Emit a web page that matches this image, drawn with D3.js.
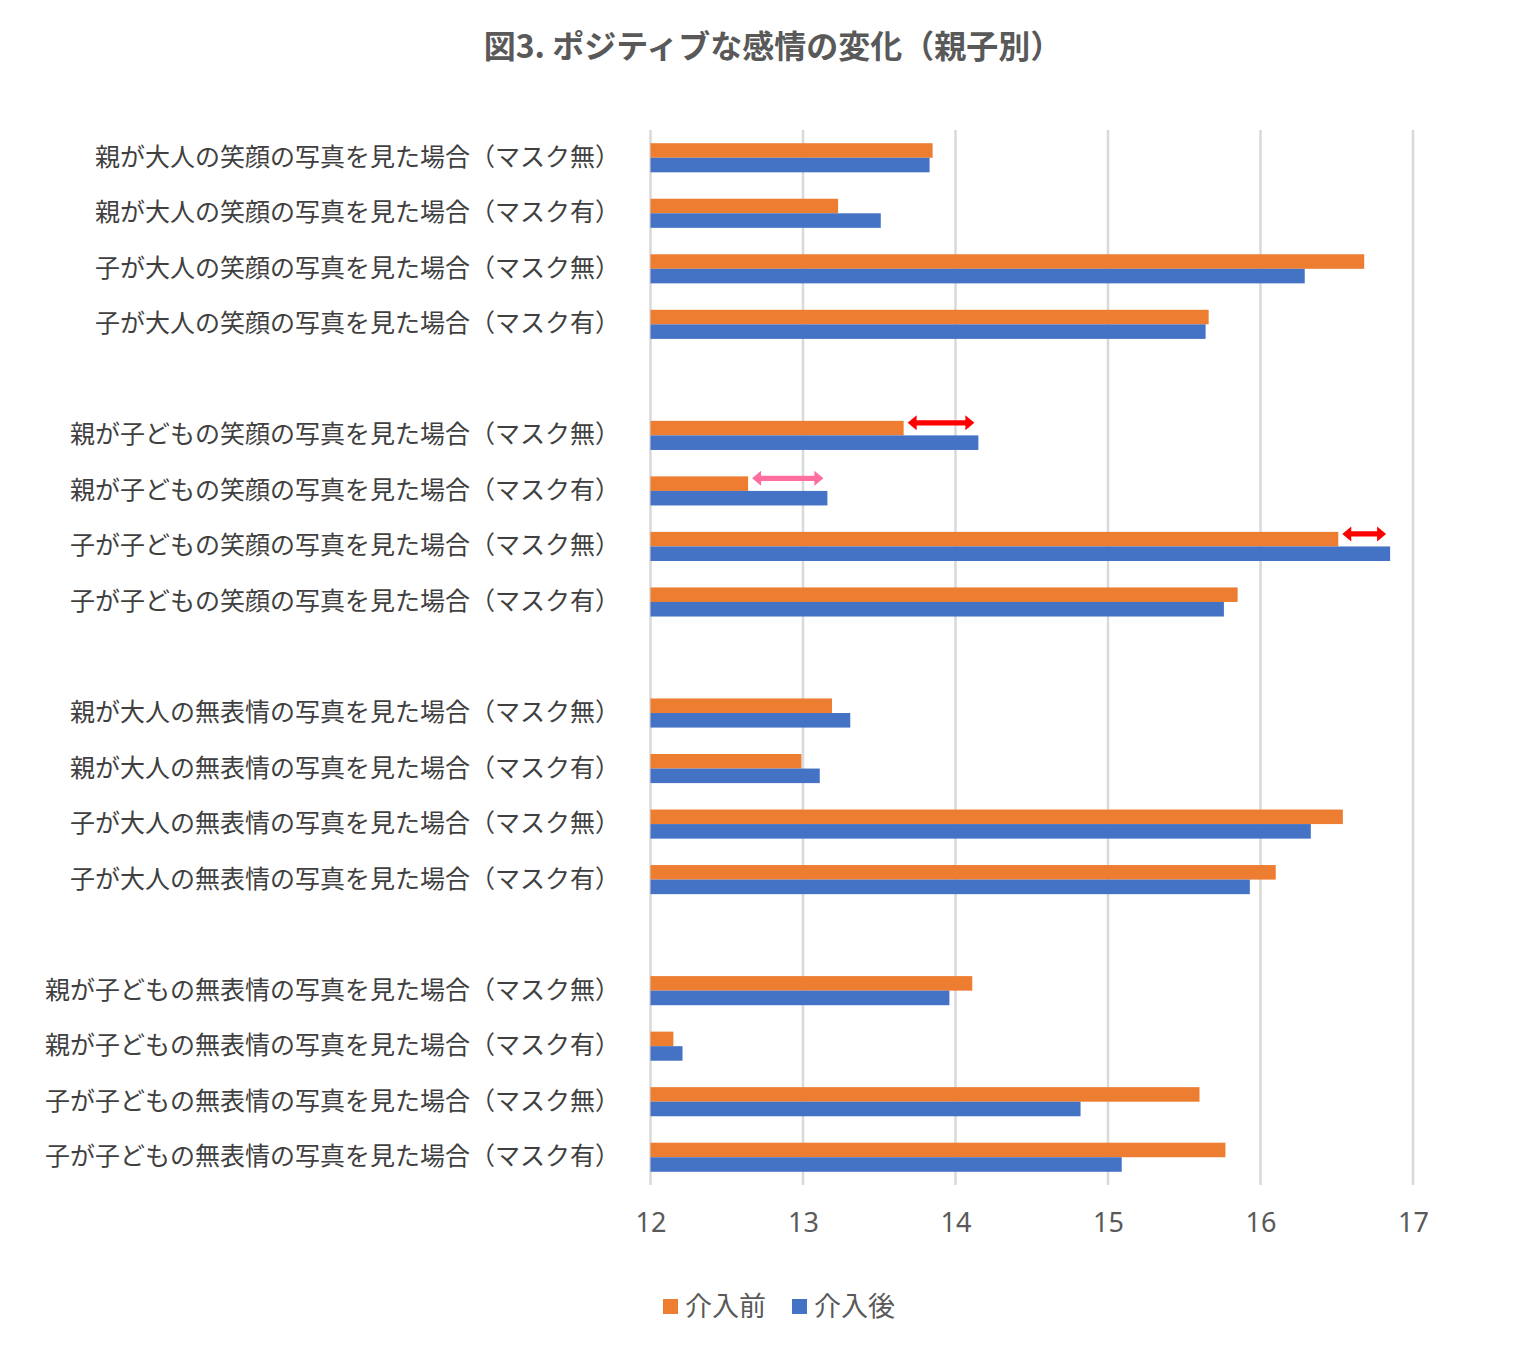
<!DOCTYPE html>
<html>
<head>
<meta charset="utf-8">
<script src="https://cdn.jsdelivr.net/npm/d3@7"></script>
<style>
  html, body { margin: 0; padding: 0; background: #fff; }
  svg { display: block; font-family: "Noto Sans CJK JP", "Noto Sans", sans-serif; }
</style>
</head>
<body>
<svg id="chart" width="1513" height="1360"></svg>
<script>
// ---- data ----
const title = "図3. ポジティブな感情の変化（親子別）";
const categories = [
  "親が大人の笑顔の写真を見た場合（マスク無）",
  "親が大人の笑顔の写真を見た場合（マスク有）",
  "子が大人の笑顔の写真を見た場合（マスク無）",
  "子が大人の笑顔の写真を見た場合（マスク有）",
  "",
  "親が子どもの笑顔の写真を見た場合（マスク無）",
  "親が子どもの笑顔の写真を見た場合（マスク有）",
  "子が子どもの笑顔の写真を見た場合（マスク無）",
  "子が子どもの笑顔の写真を見た場合（マスク有）",
  "",
  "親が大人の無表情の写真を見た場合（マスク無）",
  "親が大人の無表情の写真を見た場合（マスク有）",
  "子が大人の無表情の写真を見た場合（マスク無）",
  "子が大人の無表情の写真を見た場合（マスク有）",
  "",
  "親が子どもの無表情の写真を見た場合（マスク無）",
  "親が子どもの無表情の写真を見た場合（マスク有）",
  "子が子どもの無表情の写真を見た場合（マスク無）",
  "子が子どもの無表情の写真を見た場合（マスク有）"
];
const seriesNames = ["介入前", "介入後"];
const before = [13.85, 13.23, 16.68, 15.66, null, 13.66, 12.64, 16.51, 15.85, null, 13.19, 12.99, 16.54, 16.10, null, 14.11, 12.15, 15.60, 15.77];
const after  = [13.83, 13.51, 16.29, 15.64, null, 14.15, 13.16, 16.85, 15.76, null, 13.31, 13.11, 16.33, 15.93, null, 13.96, 12.21, 14.82, 15.09];
const xTicks = [12, 13, 14, 15, 16, 17];
// highlighted changes (category index, arrow colour)
const arrowRows = [5, 6, 7];
const arrowColors = ["#FF0000", "#FF6E9E", "#FF0000"];

// ---- layout ----
const svg = d3.select("#chart");
const colors = { "介入前": "#ED7D31", "介入後": "#4472C4" };
const plot = { left: 650.5, right: 1413, top: 130, bottom: 1185 };

const x = d3.scaleLinear().domain([12, 17]).range([plot.left, plot.right]);
const y = d3.scaleBand().domain(d3.range(categories.length))
  .range([plot.top, plot.bottom]).paddingInner(0.476).paddingOuter(0.238);
const ySub = d3.scaleBand().domain(seriesNames).range([0, y.bandwidth()]);

// title
svg.append("text")
  .attr("x", 773).attr("y", 58)
  .attr("text-anchor", "middle")
  .attr("font-size", 32).attr("font-weight", "bold")
  .attr("fill", "#595959")
  .text(title);

// gridlines
svg.append("g").selectAll("line").data(xTicks).join("line")
  .attr("x1", d => x(d)).attr("x2", d => x(d))
  .attr("y1", plot.top).attr("y2", plot.bottom)
  .attr("stroke", "#D9D9D9").attr("stroke-width", 2.5);

// x axis tick labels
const xAxis = d3.axisBottom(x).tickValues(xTicks).tickFormat(d3.format("d")).tickSize(0).tickPadding(0);
const gx = svg.append("g").attr("transform", `translate(0,${plot.bottom + 47})`).call(xAxis);
gx.select(".domain").remove();
gx.selectAll("text").attr("font-size", 27).attr("fill", "#595959")
  .attr("font-family", "'Noto Sans', 'DejaVu Sans', sans-serif").attr("dy", 0);

// category labels
const yAxis = d3.axisLeft(y).tickFormat(i => categories[i]).tickSize(0).tickPadding(0);
const gy = svg.append("g").attr("transform", `translate(620,0)`).call(yAxis);
gy.select(".domain").remove();
gy.selectAll("text").attr("font-size", 25).attr("fill", "#404040")
  .attr("font-family", "'Noto Sans CJK JP', sans-serif");

// bars
const rows = categories.map((c, i) => ({ i, values: [
  { key: "介入前", v: before[i] }, { key: "介入後", v: after[i] } ] }));
const gRows = svg.append("g").selectAll("g").data(rows.filter(r => r.values[0].v != null))
  .join("g").attr("transform", r => `translate(0,${y(r.i)})`);
gRows.selectAll("rect").data(r => r.values).join("rect")
  .attr("x", x(12))
  .attr("y", d => ySub(d.key))
  .attr("width", d => x(d.v) - x(12))
  .attr("height", ySub.bandwidth())
  .attr("fill", d => colors[d.key]);

// double-headed arrows marking the change
function dblArrow(x1, x2, yc) {
  const hs = 2.7, hh = 7.5, hl = 9;
  return `M${x1},${yc} L${x1 + hl},${yc - hh} L${x1 + hl},${yc - hs} L${x2 - hl},${yc - hs} L${x2 - hl},${yc - hh} ` +
         `L${x2},${yc} L${x2 - hl},${yc + hh} L${x2 - hl},${yc + hs} L${x1 + hl},${yc + hs} L${x1 + hl},${yc + hh} Z`;
}
svg.append("g").selectAll("path").data(arrowRows).join("path")
  .attr("d", i => dblArrow(x(before[i]) + 4, x(after[i]) - 4, y(i) + ySub("介入前") + 2))
  .attr("fill", (i, k) => arrowColors[k]);

// legend
const legend = svg.append("g").attr("transform", "translate(663,1299)");
const lx = [0, 129];
seriesNames.forEach((s, k) => {
  const g = legend.append("g").attr("transform", `translate(${lx[k]},0)`);
  g.append("rect").attr("width", 15).attr("height", 15).attr("fill", colors[s]);
  g.append("text").attr("x", 22).attr("y", 17).attr("font-size", 27)
    .attr("fill", "#595959").text(s);
});
</script>
</body>
</html>
